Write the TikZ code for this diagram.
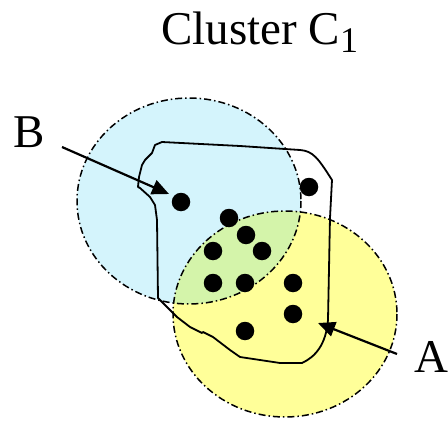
\documentclass[tikz,border=0pt]{standalone}
\usepackage{fontspec}
\setmainfont{Liberation Serif}
\usetikzlibrary{arrows.meta}
\definecolor{cblue}{RGB}{212,244,252}
\definecolor{cyel}{RGB}{255,255,153}
\definecolor{cgreen}{RGB}{212,244,170}
\tikzset{
  setborder/.style={draw=black, line width=1.5pt, dash pattern=on 7pt off 3pt on 1.5pt off 3pt},
  dot/.style={circle, fill=black, inner sep=0pt, minimum size=18.5pt},
  lbl/.style={anchor=base west, inner sep=0pt, font=\fontsize{47}{47}\selectfont},
  pointer/.style={line width=2.2pt, -{Triangle[length=17pt, width=15pt]}},
  outline/.style={line width=1.8pt, line join=round}
}
\begin{document}
\begin{tikzpicture}[x=1pt,y=-1pt]
\useasboundingbox (0,0) rectangle (448,423);
% fills
\fill[cblue] (189,201) ellipse [x radius=112, y radius=103];
\fill[cyel] (285,314) ellipse [x radius=112, y radius=103];
\begin{scope}
  \clip (189,201) ellipse [x radius=112, y radius=103];
  \fill[cgreen] (285,314) ellipse [x radius=112, y radius=103];
\end{scope}
% borders
\draw[setborder] (189,201) ellipse [x radius=112, y radius=103];
\draw[setborder] (285,314) ellipse [x radius=112, y radius=103];
% dots
\node[dot] (d1) at (181,202) {};
\node[dot] (d2) at (309,187) {};
\node[dot] (d3) at (229,218) {};
\node[dot] (d4) at (246,235) {};
\node[dot] (d5) at (213,251) {};
\node[dot] (d6) at (262,251) {};
\node[dot] (d7) at (213,283) {};
\node[dot] (d8) at (245,283) {};
\node[dot] (d9) at (293,283) {};
\node[dot] (d10) at (293,314) {};
\node[dot] (d11) at (245,331) {};
% cluster outline
\draw[outline] (162,142) -- (240,146) -- (300,150)
  .. controls (313,151) and (318,158) .. (332,180)
  -- (330,218) -- (328,320)
  .. controls (326,345) and (315,357) .. (302,363)
  -- (280,363) -- (240,357) -- (230,350) -- (213,337) -- (203,332) -- (202,333)
  -- (190,327) -- (177,317) -- (167,307) -- (158,298)
  -- (157,220) -- (155,205) -- (150,197) -- (140,188) -- (138,187)
  -- (139,177) -- (142,165) -- (145,160) -- (152,153) -- (155,145) -- cycle;
% labels
\node[lbl] (title) at (161,45) {Cluster C\raisebox{-8pt}{\fontsize{36}{36}\selectfont 1}};
\node[lbl] (B) at (13,147) {B};
\node[lbl] (A) at (414,372) {A};
% arrows
\coordinate (bs) at (62,147);
\coordinate (bt) at (169,194);
\coordinate (as) at (397,354);
\coordinate (at) at (318,323);
\draw[pointer] (bs) -- (bt);
\draw[pointer] (as) -- (at);
\end{tikzpicture}
\end{document}
